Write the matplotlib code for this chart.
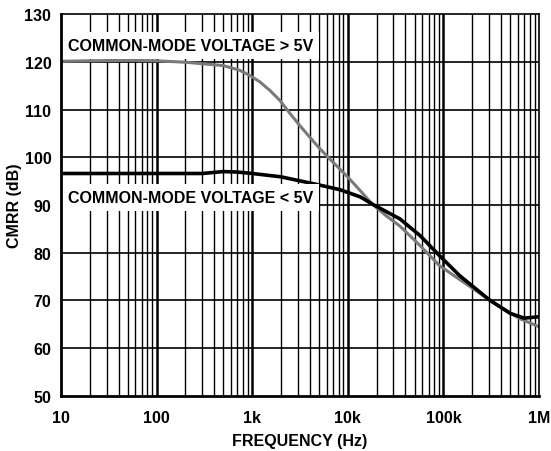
import matplotlib
matplotlib.use("Agg")
import matplotlib.pyplot as plt
from matplotlib.ticker import FixedLocator, NullFormatter

plt.rcParams['font.family'] = ['Liberation Sans', 'DejaVu Sans']
plt.rcParams['font.weight'] = 'bold'

# CMRR vs frequency, two common-mode voltage ranges
freq_high = [10, 20, 50, 100, 200, 500, 745, 950, 1200, 1530, 1950, 2500,
             3160, 4000, 5100, 6500, 8200, 10500, 13500, 18000, 25000, 35000,
             57000, 91000, 148000, 309000, 630000, 1000000]
cmrr_high = [120.1, 120.2, 120.3, 120.2, 119.9, 119.2, 118.2, 117.1, 115.8,
             114.0, 111.9, 109.1, 106.6, 104.2, 101.8, 99.6, 97.6, 95.4, 93.0,
             90.2, 87.8, 85.6, 81.5, 77.3, 74.4, 70.0, 66.2, 64.5]

freq_low = [10, 100, 300, 500, 700, 1000, 2000, 5000, 8300, 13500, 18000,
            35000, 57000, 91000, 148000, 309000, 500000, 700000, 1000000]
cmrr_low = [96.6, 96.6, 96.6, 97.0, 96.9, 96.6, 95.9, 94.2, 93.2, 91.7, 90.2,
            87.1, 83.6, 79.4, 75.2, 70.0, 67.3, 66.3, 66.6]

x_ticks = [10, 100, 1e3, 1e4, 1e5, 1e6]
x_labels = ["10", "100", "1k", "10k", "100k", "1M"]
y_ticks = [50, 60, 70, 80, 90, 100, 110, 120, 130]

fig = plt.figure(figsize=(5.51, 4.52), dpi=100)
ax = fig.add_axes([0.1107, 0.1217, 0.8675, 0.8451])

ax.set_xscale('log')
ax.set_xlim(10, 1e6)
ax.set_ylim(50, 130)

# grid: decades heavier than the in-between lines
minors = [m * 10 ** d for d in range(1, 6) for m in range(2, 10)]
for f in minors:
    ax.axvline(f, color='black', lw=1.0, zorder=1)
for f in x_ticks[1:-1]:
    ax.axvline(f, color='black', lw=1.8, zorder=1)
for v in y_ticks[1:-1]:
    ax.axhline(v, color='black', lw=1.2, zorder=1)

ax.plot(freq_high, cmrr_high, color='#7a7a7a', lw=2.2, zorder=3,
        solid_capstyle='butt', solid_joinstyle='round')
ax.plot(freq_low, cmrr_low, color='black', lw=2.6, zorder=4,
        solid_capstyle='butt', solid_joinstyle='round')

box = dict(facecolor='white', edgecolor='none', pad=4.5)
ax.text(11.75, 123.4, "COMMON-MODE VOLTAGE > 5V", fontsize=11.5,
        fontweight='bold', va='center', ha='left', bbox=box, zorder=5)
ax.text(11.75, 91.6, "COMMON-MODE VOLTAGE < 5V", fontsize=11.5,
        fontweight='bold', va='center', ha='left', bbox=box, zorder=5)

ax.xaxis.set_major_locator(FixedLocator(x_ticks))
ax.xaxis.set_minor_locator(FixedLocator(minors))
ax.xaxis.set_minor_formatter(NullFormatter())
ax.set_xticks(x_ticks)
ax.set_xticklabels(x_labels)
ax.set_yticks(y_ticks)
ax.tick_params(which='both', length=0, labelsize=11.5)
ax.tick_params(axis='x', pad=10)
ax.tick_params(axis='y', pad=7)
for lab in ax.get_xticklabels() + ax.get_yticklabels():
    lab.set_fontweight('bold')

for s in ax.spines.values():
    s.set_linewidth(1.2)
    s.set_zorder(6)
ax.spines['left'].set_linewidth(2.0)
ax.spines['bottom'].set_linewidth(2.0)

ax.set_xlabel("FREQUENCY (Hz)", fontsize=11.5, fontweight='bold', labelpad=6)
ax.set_ylabel("CMRR (dB)", fontsize=11.5, fontweight='bold', va='center')
ax.yaxis.set_label_coords(-0.098, 0.5)

fig.savefig("out.png", dpi=100)
